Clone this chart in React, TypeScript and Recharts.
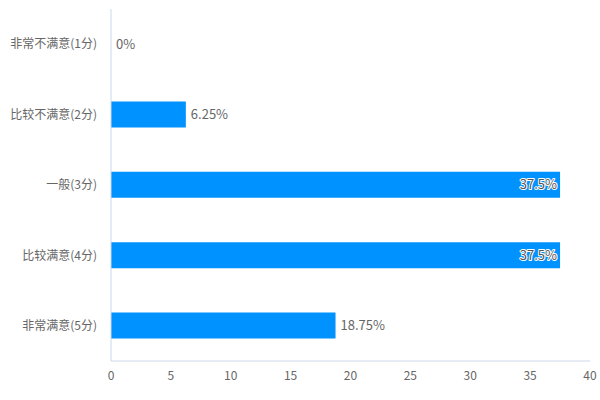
import { Bar, BarChart, LabelList, XAxis, YAxis } from "recharts";

const categories = [
  "非常不满意(1分)",
  "比较不满意(2分)",
  "一般(3分)",
  "比较满意(4分)",
  "非常满意(5分)",
];
const percents = [0, 6.25, 37.5, 37.5, 18.75];
const xTicks = [0, 5, 10, 15, 20, 25, 30, 35, 40];

const data = categories.map((name, i) => ({ name, value: percents[i] }));

const FONT = '"Noto Sans CJK SC", "Noto Sans", sans-serif';

function ValueLabel(props: any) {
  const { x, y, width, height, value } = props;
  const text = `${value}%`;
  const cy = y + height / 2;
  if (value > 30) {
    return (
      <text
        x={x + width - 3}
        y={cy}
        dy="0.35em"
        textAnchor="end"
        fontSize={13}
        fontFamily={FONT}
        fill="#555"
        stroke="#fff"
        strokeWidth={2}
        strokeLinejoin="round"
        style={{ paintOrder: "stroke" }}
      >
        {text}
      </text>
    );
  }
  return (
    <text
      x={x + width + 5}
      y={cy}
      dy="0.35em"
      textAnchor="start"
      fontSize={13}
      fontFamily={FONT}
      fill="#666"
    >
      {text}
    </text>
  );
}

export default function App() {
  return (
    <div style={{ position: "absolute", left: 0, top: 0, width: 600, height: 400, background: "#fff" }}>
      <BarChart
        width={600}
        height={400}
        data={data}
        layout="vertical"
        margin={{ top: 9, right: 10, left: 0, bottom: 9 }}
      >
        <XAxis
          type="number"
          domain={[0, 40]}
          ticks={xTicks}
          interval={0}
          tickLine={false}
          tickSize={0}
          tickMargin={10}
          height={30}
          axisLine={{ stroke: "#ccd6eb" }}
          tick={{ fill: "#666", fontSize: 12, fontFamily: FONT }}
        />
        <YAxis
          type="category"
          dataKey="name"
          width={111}
          tickLine={false}
          tickSize={0}
          tickMargin={14}
          axisLine={{ stroke: "#ccd6eb" }}
          tick={{ fill: "#666", fontSize: 12, fontFamily: FONT }}
        />
        <Bar
          dataKey="value"
          fill="#0092ff"
          barSize={26}
          minPointSize={0.01}
          isAnimationActive={false}
        >
          <LabelList dataKey="value" content={ValueLabel} />
        </Bar>
      </BarChart>
    </div>
  );
}
